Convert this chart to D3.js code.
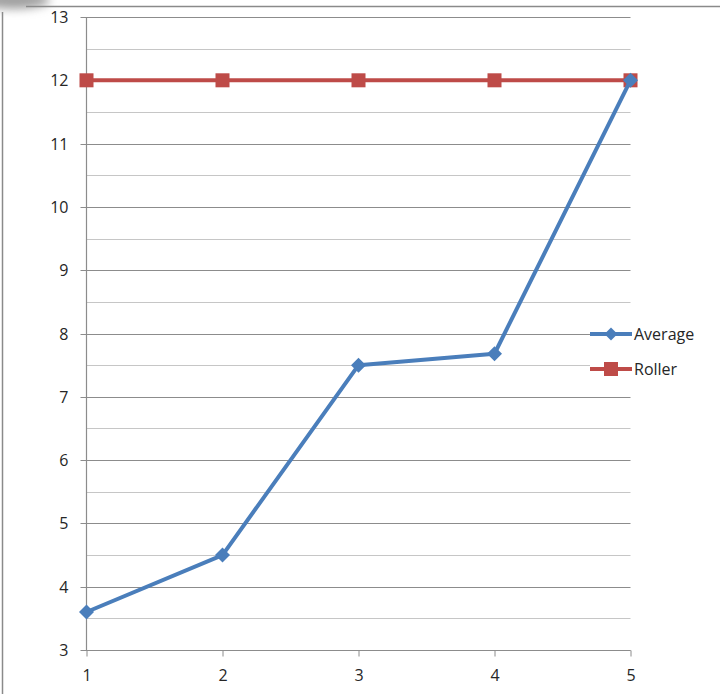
<!DOCTYPE html>
<html><head><meta charset="utf-8">
<script src="https://cdn.jsdelivr.net/npm/d3@7"></script>
<style>body{margin:0;background:#fff;} svg{display:block;}</style>
</head><body>
<script>
const categories = [1, 2, 3, 4, 5];
const averageValues = [3.6, 4.5, 7.5, 7.68, 12];
const rollerValues = [12, 12, 12, 12, 12];
const yTicks = [3, 4, 5, 6, 7, 8, 9, 10, 11, 12, 13];
const yMinorTicks = [3.5, 4.5, 5.5, 6.5, 7.5, 8.5, 9.5, 10.5, 11.5, 12.5];
const seriesNames = ["Average", "Roller"];

const W = 720, H = 694;
const svg = d3.select("body").append("svg").attr("width", W).attr("height", H);
const font = "'Open Sans', sans-serif";

// frame
const defs = svg.append("defs");
defs.append("filter").attr("id","blur").attr("x","-1").attr("y","-1").attr("width","3").attr("height","3")
  .append("feGaussianBlur").attr("stdDeviation", 5);
svg.append("ellipse").attr("cx", 14).attr("cy", 0).attr("rx", 36).attr("ry", 9)
  .attr("fill", "#a0a0a0").attr("filter", "url(#blur)");
svg.append("line").attr("x1", 26).attr("x2", W).attr("y1", 6.5).attr("y2", 6.5).attr("stroke", "#8a8a8a").attr("stroke-width", 1.5);
svg.append("line").attr("x1", 2.5).attr("x2", 2.5).attr("y1", 12).attr("y2", H).attr("stroke", "#8a8a8a").attr("stroke-width", 1.5);

const x = d3.scaleLinear().domain([1, 5]).range([86.5, 630.5]);
const y = d3.scaleLinear().domain([3, 13]).range([650, 17]);

// minor gridlines
svg.append("g").selectAll("line").data(yMinorTicks).join("line")
  .attr("x1", x(1)).attr("x2", x(5))
  .attr("y1", d => Math.round(y(d)) + 0.5).attr("y2", d => Math.round(y(d)) + 0.5)
  .attr("stroke", "#c6c6c6").attr("stroke-width", 1);

// major gridlines with ticks via axis
const yAxis = d3.axisLeft(y).tickValues(yTicks).tickSize(-(x(5) - x(1))).tickPadding(13).tickFormat(d3.format("d"));
const gy = svg.append("g").attr("transform", `translate(${x(1)},0)`).call(yAxis);
gy.attr("font-size", null).attr("font-family", null);
gy.select(".domain").remove();
gy.selectAll(".tick line").attr("stroke", "#8c8c8c").attr("stroke-width", 1).attr("x1", -6);
gy.selectAll(".tick text").attr("x", -18).style("font-family", font).style("font-size", "16px").attr("fill", "#262626");
gy.selectAll(".tick").attr("transform", d => `translate(0,${Math.round(y(d)) + 0.5})`);

// y axis line
svg.append("line").attr("x1", x(1)).attr("x2", x(1)).attr("y1", y(13)).attr("y2", y(3))
  .attr("stroke", "#8c8c8c").attr("stroke-width", 1.2);

// x axis
const xAxis = d3.axisBottom(x).tickValues(categories).tickSize(6).tickPadding(13).tickFormat(d3.format("d"));
const gx = svg.append("g").attr("transform", `translate(0,${Math.round(y(3)) + 0.5})`).call(xAxis);
gx.attr("font-size", null).attr("font-family", null);
gx.select(".domain").attr("stroke", "#8c8c8c").attr("d", `M${x(1)},0H${x(5)}`);
gx.selectAll(".tick line").attr("stroke", "#8c8c8c");
gx.selectAll(".tick text").style("font-family", font).style("font-size", "16px").attr("fill", "#262626");

const blue = "#4a7ebb", red = "#be4b48";
const line = d3.line().x((d, i) => x(categories[i])).y(d => y(d));

// Roller
svg.append("path").datum(rollerValues).attr("d", line).attr("fill", "none")
  .attr("stroke", red).attr("stroke-width", 4);
svg.append("g").selectAll("rect").data(rollerValues).join("rect")
  .attr("x", (d, i) => x(categories[i]) - 7).attr("y", d => y(d) - 7)
  .attr("width", 14).attr("height", 14).attr("fill", red);

// Average
svg.append("path").datum(averageValues).attr("d", line).attr("fill", "none")
  .attr("stroke", blue).attr("stroke-width", 4).attr("stroke-linejoin", "round");
const diamond = s => `M0,${-s}L${s},0L0,${s}L${-s},0Z`;
svg.append("g").selectAll("path").data(averageValues).join("path")
  .attr("transform", (d, i) => `translate(${x(categories[i])},${y(d)})`)
  .attr("d", diamond(7.5)).attr("fill", blue);

// legend
const lg = svg.append("g");
lg.append("rect").attr("x", 590).attr("y", 322).attr("width", 120).attr("height", 60).attr("fill", "#fff");
const legendY = [334, 369];
const colors = [blue, red];
seriesNames.forEach((n, i) => {
  const g = lg.append("g").attr("transform", `translate(0,${legendY[i]})`);
  g.append("line").attr("x1", 590).attr("x2", 632).attr("stroke", colors[i]).attr("stroke-width", 4);
  if (i === 0) g.append("path").attr("transform", "translate(611,0)").attr("d", diamond(6.5)).attr("fill", blue);
  else g.append("rect").attr("x", 604).attr("y", -7).attr("width", 14).attr("height", 14).attr("fill", red);
  g.append("text").attr("x", 634).attr("y", 6).style("font-family", font).style("font-size", "16px")
    .attr("fill", "#262626").text(n);
});
</script>
</body></html>
